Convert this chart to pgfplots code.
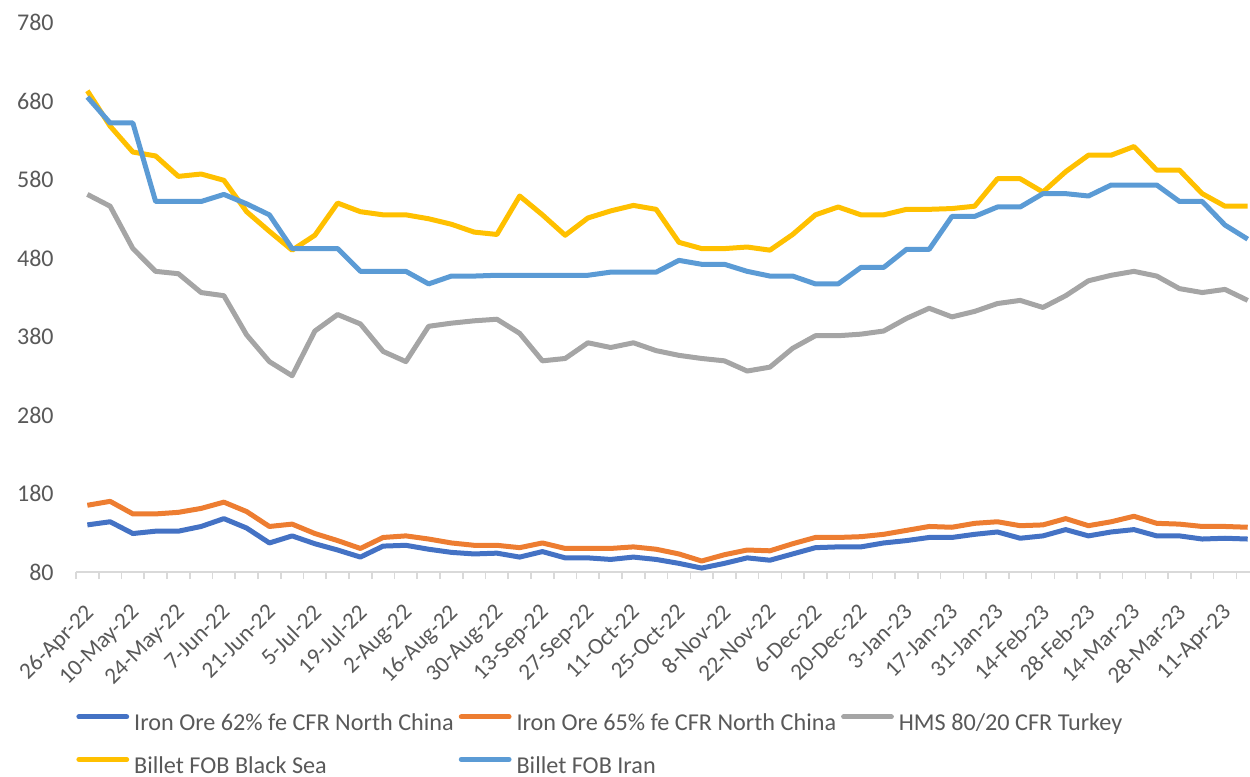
\documentclass[border=0pt]{standalone}
\usepackage{fontspec}
\setmainfont{Carlito}
\usepackage{pgfplots}
\usepackage{pgfplotstable}
\pgfplotsset{compat=1.18}
\definecolor{cA}{HTML}{4472C4}
\definecolor{cB}{HTML}{ED7D31}
\definecolor{cC}{HTML}{A5A5A5}
\definecolor{cD}{HTML}{FFC000}
\definecolor{cE}{HTML}{5B9BD5}
\definecolor{txt}{HTML}{595959}
\definecolor{axl}{HTML}{D9D9D9}
\pgfplotstableread{
i a b c d e
0 140 165 561 693 685
1 144 170 546 648 652
2 129 154 492 615 652
3 132 154 463 610 552
4 132 156 460 584 552
5 138 161 436 587 552
6 148 169 432 579 561
7 136 157 382 539 549
8 117 138 348 514 535
9 126 141 330 490 492
10 116 129 387 509 492
11 108 120 408 550 492
12 99 110 396 539 463
13 113 124 361 535 463
14 114 126 348 535 463
15 109 122 393 530 447
16 105 117 397 523 457
17 103 114 400 513 457
18 104 114 402 510 458
19 99 111 384 559 458
20 106 117 349 535 458
21 98 110 352 509 458
22 98 110 372 531 458
23 96 110 366 540 462
24 99 112 372 547 462
25 96 109 362 542 462
26 91 103 356 500 477
27 85 94 352 492 472
28 91 102 349 492 472
29 98 108 336 494 463
30 95 107 341 490 457
31 103 116 365 510 457
32 111 124 381 535 447
33 112 124 381 545 447
34 112 125 383 535 468
35 117 128 387 535 468
36 120 133 403 542 491
37 124 138 416 542 491
38 124 137 405 543 533
39 128 142 412 546 533
40 131 144 422 581 545
41 123 139 426 581 545
42 126 140 417 564 562
43 134 148 432 590 562
44 126 139 451 611 559
45 131 144 458 611 573
46 134 151 463 622 573
47 126 142 457 592 573
48 126 141 441 592 552
49 122 138 436 562 552
50 123 138 440 546 522
51 122 137 426 546 504
}\datatable
\begin{document}
\begin{tikzpicture}
\begin{axis}[
  at={(0,0)}, anchor=south west,
  scale only axis, width=587pt, height=274.75pt,
  xmin=-0.5, xmax=51.1, ymin=80, ymax=780,
  axis x line*=bottom, axis y line*=left,
  x axis line style={draw=axl, line width=0.8pt},
  y axis line style={draw=none},
  ytick={80,180,...,780},
  ytick style={draw=none},
  xtick={0,2,...,50},
  xticklabels={26-Apr-22,10-May-22,24-May-22,7-Jun-22,21-Jun-22,5-Jul-22,19-Jul-22,2-Aug-22,16-Aug-22,30-Aug-22,13-Sep-22,27-Sep-22,11-Oct-22,25-Oct-22,8-Nov-22,22-Nov-22,6-Dec-22,20-Dec-22,3-Jan-23,17-Jan-23,31-Jan-23,14-Feb-23,28-Feb-23,14-Mar-23,28-Mar-23,11-Apr-23},
  major x tick style={draw=none},
  minor xtick={-0.5,0.5,...,51.5},
  minor x tick style={draw=axl, line width=0.8pt},
  tick align=outside,
  minor tick length=3.5pt,
  major tick length=0pt,
  /pgf/number format/assume math mode=true,
  yticklabel style={font=\fontsize{12}{14}\selectfont, text=txt, anchor=east, inner sep=0pt, xshift=-11pt},
  xticklabel style={font=\fontsize{11.6}{13}\selectfont, text=txt, rotate=45, anchor=north east, inner sep=0pt, xshift=-12pt, yshift=-9.4pt},
  legend columns=3,
  legend cell align=left,
  legend image code/.code={\draw[#1, line width=2.5pt, line cap=round] (1.3pt,3pt) -- (25.2pt,3pt);},
  legend style={at={(0,0)}, anchor=north west, yshift=-71pt, xshift=0pt, draw=none, fill=none, inner sep=0pt,
    font=\fontsize{12.1}{14}\selectfont, text=txt,
    nodes={inner sep=0pt, text height=8pt, text depth=0pt},
    row sep=13pt,
    /tikz/every odd column/.append style={column sep=2.5pt},
    /tikz/every even column/.append style={column sep=2.5pt}},
  every axis plot/.append style={line width=2.5pt, line join=round, no markers},
]
\addplot[cA] table[x=i, y=a] {\datatable};
\addlegendentry{Iron Ore 62\% fe CFR North China}
\addplot[cB] table[x=i, y=b] {\datatable};
\addlegendentry{Iron Ore 65\% fe CFR North China}
\addplot[cC] table[x=i, y=c] {\datatable};
\addlegendentry{HMS 80/20 CFR Turkey}
\addplot[cD] table[x=i, y=d] {\datatable};
\addlegendentry{Billet FOB Black Sea}
\addplot[cE] table[x=i, y=e] {\datatable};
\addlegendentry{Billet FOB Iran}
\end{axis}
\pgfresetboundingbox
\path (-38pt,-102.5pt) rectangle (587pt,286pt);
\end{tikzpicture}
\end{document}
